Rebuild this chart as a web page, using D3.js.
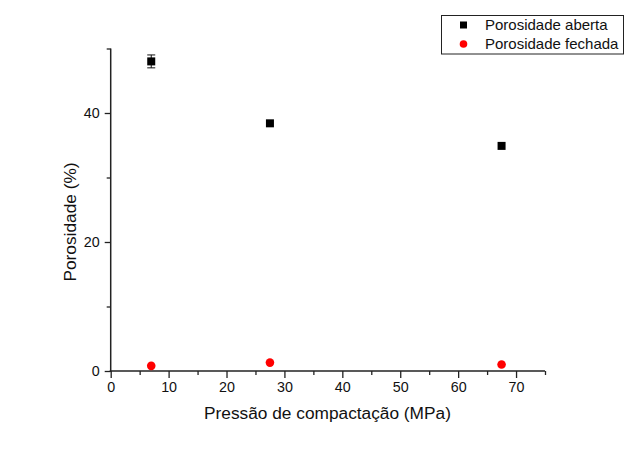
<!DOCTYPE html>
<html><head><meta charset="utf-8">
<script src="https://cdn.jsdelivr.net/npm/d3@7"></script>
<style>body{margin:0;background:#fff}svg{display:block}text{font-family:"Liberation Sans",Arial,sans-serif}</style>
</head><body>
<script>
const pressure = [7, 27.5, 67.5];
const openPorosity = [48.0, 38.4, 34.9];
const openErr = [1.0, 0, 0];
const closedPorosity = [0.8, 1.3, 1.0];
const xTicks = [0, 10, 20, 30, 40, 50, 60, 70];
const yTicks = [0, 20, 40];
const seriesNames = ["Porosidade aberta", "Porosidade fechada"];

const W = 634, H = 449;
const svg = d3.select("body").append("svg").attr("width", W).attr("height", H);
const x = d3.scaleLinear().domain([0, 75]).range([110.7, 545]);
const y = d3.scaleLinear().domain([0, 50]).range([371, 48.5]);

// x axis
const gx = svg.append("g").attr("transform", `translate(0,${y(0)})`);
gx.call(d3.axisBottom(x).tickValues(d3.range(5, 76, 10)).tickSize(4).tickFormat(""));
gx.call(g => g.select(".domain").remove());
const gx2 = svg.append("g").attr("transform", `translate(0,${y(0)})`);
gx2.call(d3.axisBottom(x).tickValues(xTicks).tickSize(7).tickPadding(4).tickFormat(d3.format("d")));
gx2.select(".domain").attr("d", `M${x(0)-1},0H${x(75)}`);
gx2.selectAll("text").attr("font-size", 14.3).attr("fill", "#111");

// y axis
const gy = svg.append("g").attr("transform", `translate(${x(0)},0)`);
gy.call(d3.axisLeft(y).tickValues([10, 30, 50]).tickSize(4).tickFormat(""));
gy.call(g => g.select(".domain").remove());
const gy2 = svg.append("g").attr("transform", `translate(${x(0)},0)`);
gy2.call(d3.axisLeft(y).tickValues(yTicks).tickSize(6).tickPadding(5).tickFormat(d3.format("d")));
gy2.select(".domain").attr("d", `M0,${y(0)+1}V${y(50)}`);
gy2.selectAll("text").attr("font-size", 14.3).attr("fill", "#111");
svg.selectAll(".domain").attr("stroke", "#222").attr("stroke-width", 1.5);
svg.selectAll(".tick line").attr("stroke", "#222").attr("stroke-width", 1.3);

// titles
svg.append("text").attr("x", 327.5).attr("y", 419).attr("text-anchor", "middle")
  .attr("font-size", 17.3).attr("fill", "#111").text("Pressão de compactação (MPa)");
svg.append("text").attr("transform", `translate(76,${222}) rotate(-90)`).attr("text-anchor", "middle")
  .attr("font-size", 17.3).attr("fill", "#111").text("Porosidade (%)");

// error bars
const eb = svg.append("g");
pressure.forEach((p, i) => {
  if (openErr[i] > 0) {
    const cx = x(p), y1 = y(openPorosity[i] + openErr[i]), y2 = y(openPorosity[i] - openErr[i]);
    eb.append("line").attr("x1", cx).attr("x2", cx).attr("y1", y1).attr("y2", y2).attr("stroke", "#111");
    eb.append("line").attr("x1", cx-4).attr("x2", cx+4).attr("y1", y1).attr("y2", y1).attr("stroke", "#111");
    eb.append("line").attr("x1", cx-4).attr("x2", cx+4).attr("y1", y2).attr("y2", y2).attr("stroke", "#111");
  }
});

// markers
svg.append("g").selectAll("rect").data(pressure).join("rect")
  .attr("x", (d) => x(d) - 4).attr("y", (d, i) => y(openPorosity[i]) - 4)
  .attr("width", 8).attr("height", 8).attr("fill", "#000");
svg.append("g").selectAll("circle").data(pressure).join("circle")
  .attr("cx", d => x(d)).attr("cy", (d, i) => y(closedPorosity[i]))
  .attr("r", 4.3).attr("fill", "#f00");

// legend
const lg = svg.append("g");
lg.append("rect").attr("x", 441.5).attr("y", 15.5).attr("width", 182).attr("height", 38.5)
  .attr("fill", "#fff").attr("stroke", "#222").attr("stroke-width", 1);
lg.append("rect").attr("x", 460).attr("y", 21.5).attr("width", 7).attr("height", 7).attr("fill", "#000");
lg.append("circle").attr("cx", 463.5).attr("cy", 44).attr("r", 3.8).attr("fill", "#f00");
lg.append("text").attr("x", 485).attr("y", 30).attr("font-size", 15).attr("fill", "#111").text(seriesNames[0]);
lg.append("text").attr("x", 485).attr("y", 49).attr("font-size", 15).attr("fill", "#111").text(seriesNames[1]);
</script>
</body></html>
